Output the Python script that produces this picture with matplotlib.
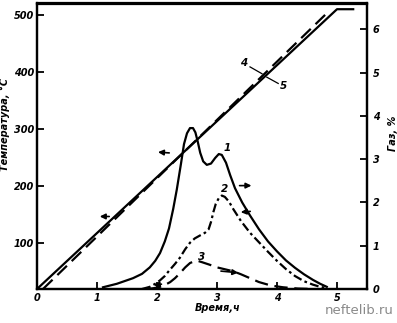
import numpy as np
import matplotlib.pyplot as plt

# temperature ramps (left axis)
t_temp5 = [0.0, 5.0, 5.27]
temp5 = [20, 510, 510]
t_temp4 = [0.1, 4.85]
temp4 = [20, 505]

# gas evolution curves (right axis)
t_gas1 = [1.1, 1.33, 1.6, 1.75, 1.88, 1.97, 2.05, 2.13, 2.2, 2.27, 2.33, 2.4, 2.45,
          2.5, 2.55, 2.6, 2.64, 2.68, 2.72, 2.77, 2.83, 2.9, 2.97, 3.03, 3.08, 3.15,
          3.22, 3.3, 3.42, 3.55, 3.7, 3.85, 4.0, 4.15, 4.3, 4.45, 4.6, 4.72, 4.83]
gas1 = [0.04, 0.12, 0.25, 0.35, 0.5, 0.65, 0.83, 1.1, 1.4, 1.85, 2.3, 2.9, 3.35,
        3.6, 3.72, 3.72, 3.62, 3.4, 3.15, 2.95, 2.87, 2.9, 3.03, 3.12, 3.1, 2.92,
        2.63, 2.33, 2.0, 1.7, 1.38, 1.1, 0.87, 0.66, 0.49, 0.34, 0.21, 0.12, 0.05]
t_gas2 = [1.75, 1.88, 1.97, 2.05, 2.13, 2.2, 2.3, 2.38, 2.47, 2.55, 2.63, 2.72, 2.8,
          2.86, 2.9, 2.94, 2.98, 3.03, 3.08, 3.13, 3.2, 3.27, 3.4, 3.55, 3.7, 3.85,
          4.0, 4.15, 4.3, 4.45, 4.6, 4.72, 4.8]
gas2 = [0.0, 0.05, 0.12, 0.2, 0.3, 0.42, 0.58, 0.72, 0.92, 1.07, 1.17, 1.24, 1.3,
        1.38, 1.55, 1.78, 1.97, 2.1, 2.16, 2.13, 2.02, 1.85, 1.57, 1.3, 1.08, 0.86,
        0.65, 0.46, 0.3, 0.18, 0.1, 0.05, 0.03]
t_gas3 = [1.85, 1.95, 2.05, 2.14, 2.22, 2.3, 2.38, 2.47, 2.55, 2.62, 2.68, 2.75, 2.88,
          3.0, 3.15, 3.27, 3.4, 3.55, 3.7, 3.9, 4.1, 4.35, 4.6]
gas3 = [0.0, 0.02, 0.05, 0.1, 0.16, 0.25, 0.36, 0.5, 0.6, 0.64, 0.65, 0.62, 0.56,
        0.5, 0.45, 0.41, 0.34, 0.25, 0.16, 0.08, 0.04, 0.01, 0.0]

x_ticks = [0, 1, 2, 3, 4, 5]
temp_ticks = [100, 200, 300, 400, 500]
gas_ticks = [0, 1, 2, 3, 4, 5, 6]

tick_font = dict(style='italic', weight='bold', size=7)
lw = 1.6

fig = plt.figure(figsize=(3.97, 3.23), dpi=100)
ax = fig.add_axes([37/397, 34/323, 330/397, 285.5/323])
ax2 = ax.twinx()

ax.plot(t_temp5, temp5, '-', color='black', lw=lw)
ax.plot(t_temp4, temp4, color='black', lw=lw, linestyle=(0, (6, 3)))

ax2.plot(t_gas1, gas1, '-', color='black', lw=lw)
ax2.plot(t_gas2, gas2, color='black', lw=lw, linestyle=(0, (4, 1.5, 1.2, 1.5)))
ax2.plot(t_gas3, gas3, color='black', lw=lw, linestyle=(0, (6, 3)))

ax.set_xlim(0, 5.5)
ax.set_ylim(20, 520)
ax2.set_ylim(0, 6.6)

ax.set_xticks(x_ticks)
ax.set_xticklabels([str(v) for v in x_ticks], **tick_font)
ax.set_yticks(temp_ticks)
ax.set_yticklabels([str(v) for v in temp_ticks], **tick_font)
ax2.set_yticks(gas_ticks)
ax2.set_yticklabels([str(v) for v in gas_ticks], **tick_font)

ax.tick_params(axis='both', direction='in', length=5, width=1.3, pad=2)
ax.tick_params(axis='x', pad=3)
ax2.tick_params(axis='y', direction='in', length=5, width=1.3, pad=4)
for a in (ax, ax2):
    for s in a.spines.values():
        s.set_linewidth(1.6)

label_font = dict(style='italic', weight='bold', size=7)
ax.set_ylabel('Температура, °C', **label_font)
ax.yaxis.set_label_coords(-0.082, 0.575)
ax2.set_ylabel('Газ, %', rotation=90, **label_font)
ax2.yaxis.set_label_coords(1.064, 0.546)
ax.set_xlabel('Время,ч', **label_font)
ax.xaxis.set_label_coords(0.548, -0.05)

# curve numbers
num_font = dict(style='italic', weight='bold', size=7.5, ha='center', va='center')
ax2.text(3.17, 3.25, '1', **num_font)
ax2.text(3.13, 2.32, '2', **num_font)
ax2.text(2.75, 0.75, '3', **num_font)
ax.text(3.45, 415, '4', **num_font)
ax.text(4.1, 375, '5', **num_font)
ax.plot([3.55, 3.75], [409, 397], color='black', lw=0.9)
ax.plot([3.83, 4.02], [391, 380], color='black', lw=0.9)

# arrows showing which axis each curve belongs to
arrow = dict(arrowstyle='-|>', color='black', lw=1.2, mutation_scale=8)
ax.annotate('', xy=(1.0, 147), xytext=(1.25, 147), arrowprops=arrow)
ax.annotate('', xy=(1.97, 260), xytext=(2.25, 258), arrowprops=arrow)
ax2.annotate('', xy=(3.62, 2.39), xytext=(3.33, 2.39), arrowprops=arrow)
ax2.annotate('', xy=(3.35, 1.77), xytext=(3.6, 1.8), arrowprops=arrow)
ax2.annotate('', xy=(3.4, 0.37), xytext=(3.02, 0.42), arrowprops=arrow)
ax2.annotate('', xy=(1.9, 0.08), xytext=(2.12, 0.12), arrowprops=arrow)

fig.text(394/397, 1 - 311/323, 'neftelib.ru', ha='right', va='center',
         color='#8a8a8a', fontsize=9.5)

fig.savefig('out.png', dpi=100)
